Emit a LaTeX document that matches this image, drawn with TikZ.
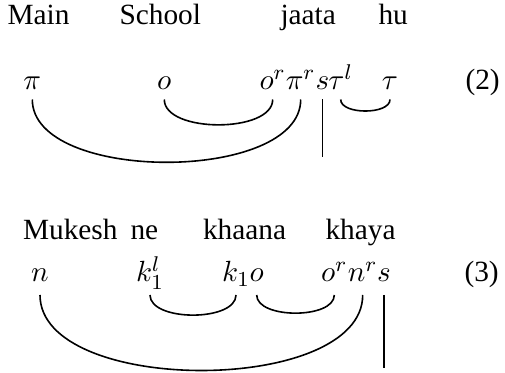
\documentclass[tikz,border=0pt]{standalone}
\usepackage{fontspec}
\setmainfont{Liberation Serif}
\begin{document}
\begin{tikzpicture}[x=0.375pt,y=-0.375pt,
  font=\fontsize{11}{13}\selectfont,
  word/.style={anchor=base west,inner sep=0pt},
  sym/.style={anchor=base,inner sep=0pt},
  link/.style={line width=0.6pt,out=-90,in=-90,looseness=0.8},
  bar/.style={line width=0.6pt}]
\useasboundingbox (0,0) rectangle (505,373);
% ---- example (2)
\node[word] (w1) at (7,25) {Main};
\node[word] (w2) at (119,25) {School};
\node[word] (w3) at (280,25) {jaata};
\node[word] (w4) at (378,25) {hu};
\node[sym] (pi) at (32.3,90) {$\pi$};
\node[sym] (o) at (164.3,90) {$o$};
\node[sym] (or) at (272.7,90) {$o^r$};
\node[sym] (pir) at (300.7,90) {$\pi^r$};
\node[sym] (s) at (322.5,90) {$s$};
\node[sym] (taul) at (340.7,90) {$\tau^l$};
\node[sym] (tau) at (390,90) {$\tau$};
\node[word] (eq2) at (465,90) {(2)};
\coordinate (top1) at (0,99.5);
\coordinate (bot1) at (0,157);
\draw[link] (pi.base |- top1) to (pir.base |- top1);
\draw[link] (o.base |- top1) to (or.base |- top1);
\draw[link] (taul.base |- top1) to (tau.base |- top1);
\draw[bar] (s.base |- top1) -- (s.base |- bot1);
% ---- example (3)
\node[word] (v1) at (22.5,240) {Mukesh};
\node[word] (v2) at (130,240) {ne};
\node[word] (v3) at (202.5,240) {khaana};
\node[word] (v4) at (325,240) {khaya};
\node[sym] (n) at (40,282) {$n$};
\node[sym] (kl) at (150,282) {$k_1^l$};
\node[sym] (k) at (236,282) {$k_1$};
\node[sym] (o2) at (256.7,282) {$o$};
\node[sym] (or2) at (334.3,282) {$o^r$};
\node[sym] (nr) at (362.7,282) {$n^r$};
\node[sym] (s2) at (384,282) {$s$};
\node[word] (eq3) at (464,282) {(3)};
\coordinate (top2) at (0,295);
\coordinate (bot2) at (0,368);
\draw[link] (n.base |- top2) to (nr.base |- top2);
\draw[link] (kl.base |- top2) to (k.base |- top2);
\draw[link] (o2.base |- top2) to (or2.base |- top2);
\draw[bar] (s2.base |- top2) -- (s2.base |- bot2);
\end{tikzpicture}
\end{document}
